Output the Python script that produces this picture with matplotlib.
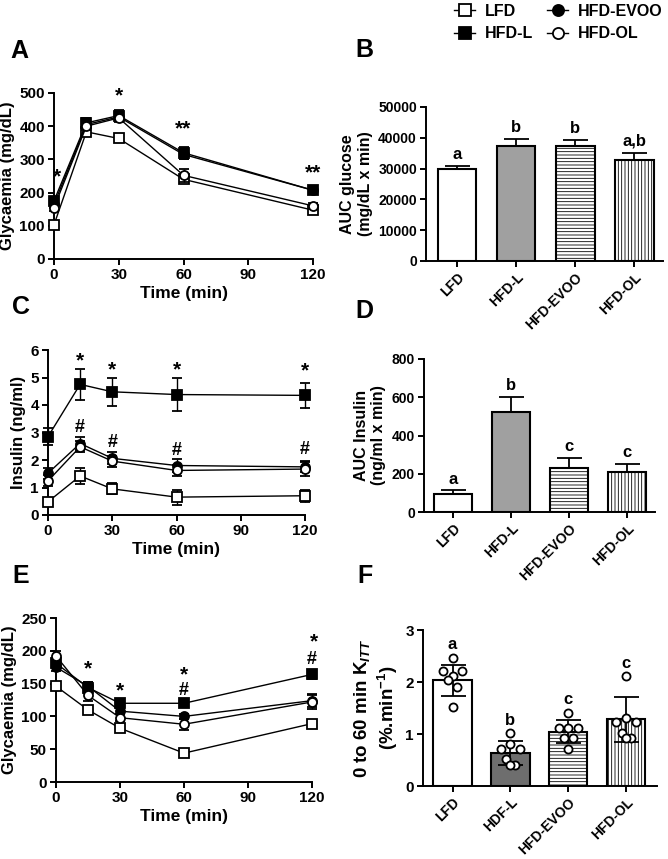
import matplotlib
matplotlib.use("Agg")
import matplotlib.pyplot as plt
from matplotlib.lines import Line2D

plt.rcParams['font.family'] = ['Liberation Sans', 'DejaVu Sans']
plt.rcParams['font.weight'] = 'bold'
plt.rcParams['axes.labelweight'] = 'bold'
plt.rcParams['mathtext.fontset'] = 'custom'
plt.rcParams['mathtext.rm'] = 'Liberation Sans:bold'
plt.rcParams['mathtext.it'] = 'Liberation Sans:italic:bold'
plt.rcParams['mathtext.bf'] = 'Liberation Sans:bold'
plt.rcParams['hatch.linewidth'] = 0.6

# ---- data ----
groups = ['LFD', 'HFD-L', 'HFD-EVOO', 'HFD-OL']
f_groups = ['LFD', 'HDF-L', 'HFD-EVOO', 'HFD-OL']
times = [0, 15, 30, 60, 120]

# A: OGTT glycaemia (LFD, HFD-L, HFD-EVOO, HFD-OL)
ogtt_mean = [[103, 383, 363, 240, 147],
             [175, 410, 432, 320, 207],
             [165, 405, 428, 315, 207],
             [155, 400, 425, 252, 160]]
ogtt_err = [[8, 10, 8, 10, 8],
            [10, 15, 18, 18, 6],
            [10, 12, 10, 15, 6],
            [10, 12, 10, 20, 8]]
ogtt_marks = [(1.5, 247, '*'), (30, 492, '*'), (60, 392, '**'), (120, 260, '**')]

# B: AUC glucose
auc_glu = [29800, 37500, 37500, 32800]
auc_glu_err = [1200, 2200, 1800, 2400]
auc_glu_letters = ['a', 'b', 'b', 'a,b']

# C: insulin
ins_mean = [[0.48, 1.42, 0.95, 0.65, 0.70],
            [2.85, 4.75, 4.48, 4.38, 4.35],
            [1.52, 2.60, 2.06, 1.80, 1.75],
            [1.24, 2.48, 1.96, 1.62, 1.67]]
ins_err = [[0.15, 0.28, 0.20, 0.27, 0.22],
           [0.30, 0.57, 0.50, 0.60, 0.45],
           [0.20, 0.25, 0.22, 0.25, 0.20],
           [0.20, 0.20, 0.20, 0.20, 0.25]]
ins_marks = [(15, 5.6, '*'), (30, 5.28, '*'), (60, 5.28, '*'), (120, 5.25, '*'),
             (15, 3.2, '#'), (30, 2.64, '#'), (60, 2.36, '#'), (120, 2.38, '#')]

# D: AUC insulin
auc_ins = [94, 522, 228, 210]
auc_ins_err = [19, 81, 54, 42]
auc_ins_letters = ['a', 'b', 'c', 'c']

# E: ITT glycaemia
itt_mean = [[146, 110, 82, 44, 89],
            [181, 144, 120, 120, 164],
            [175, 146, 108, 100, 124],
            [192, 132, 98, 88, 122]]
itt_err = [[5, 4, 4, 3, 5],
           [6, 8, 6, 5, 7],
           [6, 6, 5, 4, 10],
           [8, 8, 5, 8, 10]]
itt_marks = [(15, 172, '*'), (30, 139, '*'), (60, 163, '*'), (60, 139, '#'),
             (121, 213, '*'), (120, 186, '#')]

# F: KITT
kitt_mean = [2.03, 0.64, 1.04, 1.28]
kitt_sd = [0.29, 0.23, 0.22, 0.43]
kitt_points = [[2.47, 2.21, 2.21, 2.12, 2.03, 1.91, 1.51],
               [1.01, 0.72, 0.72, 0.81, 0.52, 0.40, 0.40],
               [1.41, 1.11, 1.11, 1.11, 0.92, 0.92, 0.71],
               [2.12, 1.24, 1.24, 1.31, 1.01, 0.92, 0.92]]
kitt_letters = ['a', 'b', 'c', 'c']

# ---- style ----
markers = ['s', 's', 'o', 'o']
fills = ['white', 'black', 'black', 'white']
hatches = ['', '', '-----', '|||||']

W, H = 668, 859
fig = plt.figure(figsize=(W / 100, H / 100), dpi=100)


def add_ax(left, right, top, bottom):
    return fig.add_axes([left / W, 1 - bottom / H, (right - left) / W, (bottom - top) / H])


def style(ax, fs=11):
    for s in ['top', 'right']:
        ax.spines[s].set_visible(False)
    for s in ['left', 'bottom']:
        ax.spines[s].set_linewidth(1.4)
    ax.tick_params(width=1.4, length=4, pad=2.5, labelsize=fs)
    for lab in ax.get_xticklabels() + ax.get_yticklabels():
        lab.set_fontweight('bold')


def curves(ax, means, errs, marks, ylim, yticks, ylabel):
    for i in range(4):
        ax.errorbar(times, means[i], yerr=errs[i], color='black', lw=1,
                     marker=markers[i], ms=6.5, mfc=fills[i], mec='black', mew=1.3,
                     capsize=3.5, elinewidth=1, capthick=1, clip_on=False, zorder=3 + i)
    for t, y, s in marks:
        ax.text(t, y, s, ha='center', va='center', fontsize=15 if s != '#' else 13)
    ax.set_xlim(0, 120)
    ax.set_xticks([0, 30, 60, 90, 120])
    ax.set_ylim(*ylim)
    ax.set_yticks(yticks)
    ax.set_xlabel('Time (min)', fontsize=12.5, labelpad=3)
    ax.set_ylabel(ylabel, fontsize=12, labelpad=3)
    style(ax, 11)


def bars(ax, means, errs, letters, fill2, xlim, ylim, yticks, ylabel, labels,
         lower=False, fs_lab=11, fs_tick=10):
    x = list(range(4))
    ax.bar(x, means, width=0.66, color=['white', fill2, 'white', 'white'],
           edgecolor='black', lw=1.5, hatch=hatches, zorder=2)
    yerr = [errs, errs] if lower else [[0] * 4, errs]
    ax.errorbar(x, means, yerr=yerr, fmt='none', ecolor='black', elinewidth=1.3,
                capsize=9, capthick=1.3, zorder=3)
    span = ylim[1] - ylim[0]
    for xi, m, e, l in zip(x, means, errs, letters):
        ax.text(xi, m + e + span * 0.025, l, ha='center', va='bottom', fontsize=12)
    ax.set_xlim(*xlim)
    ax.set_ylim(*ylim)
    ax.set_yticks(yticks)
    ax.set_xticks(x)
    ax.set_xticklabels(labels, rotation=45, ha='right', rotation_mode='anchor')
    ax.set_ylabel(ylabel, fontsize=fs_lab, labelpad=4)
    style(ax, fs_tick)


# A
axA = add_ax(54, 313, 93, 259)
curves(axA, ogtt_mean, ogtt_err, ogtt_marks, (0, 500), [0, 100, 200, 300, 400, 500],
       'Glycaemia (mg/dL)')

# B
axB = add_ax(426, 663, 107, 261)
bars(axB, auc_glu, auc_glu_err, auc_glu_letters, '#a0a0a0', (-0.525, 3.49), (0, 50000),
     [0, 10000, 20000, 30000, 40000, 50000], 'AUC glucose\n(mg/dL x min)', groups,
     fs_lab=11.5)

# C
axC = add_ax(48, 305, 350, 515)
curves(axC, ins_mean, ins_err, ins_marks, (0, 6), [0, 1, 2, 3, 4, 5, 6], 'Insulin (ng/ml)')

# D
axD = add_ax(424, 655, 359, 512)
bars(axD, auc_ins, auc_ins_err, auc_ins_letters, '#a0a0a0', (-0.5, 3.48), (0, 800),
     [0, 200, 400, 600, 800], 'AUC Insulin\n(ng/ml x min)', groups, fs_lab=11.5)

# E
axE = add_ax(56, 312, 618, 782)
curves(axE, itt_mean, itt_err, itt_marks, (0, 250), [0, 50, 100, 150, 200, 250],
       'Glycaemia (mg/dL)')

# F
axF = add_ax(423, 657, 630, 786)
bars(axF, kitt_mean, kitt_sd, kitt_letters, '#6e6e6e', (-0.51, 3.53), (0, 3), [0, 1, 2, 3],
     '0 to 60 min K$_{ITT}$\n(%.min$^{-1}$)', f_groups, lower=True, fs_lab=13.5, fs_tick=11)
for lab in axF.get_xticklabels():
    lab.set_fontsize(10)
jitter = [0.0, -0.17, 0.17, 0.0, -0.08, 0.08, 0.0]
for i, pts in enumerate(kitt_points):
    axF.scatter([i + j for j in jitter], pts, s=34, facecolor='white', edgecolor='black',
                lw=1.3, zorder=4)
# letters in F sit above the highest point
for t, pts, m, e in zip(axF.texts, kitt_points, kitt_mean, kitt_sd):
    t.set_y(max(max(pts), m + e) + 0.1)

# panel letters
for x, y, s in [(10, 58, 'A'), (355, 57, 'B'), (12, 314, 'C'), (355, 318, 'D'),
                (12, 583, 'E'), (357, 583, 'F')]:
    fig.text(x / W, 1 - y / H, s, fontsize=18, ha='left', va='baseline')

# legend
handles = [Line2D([0], [0], color='black', lw=1, marker=markers[i], ms=8,
                  mfc=fills[i], mec='black', mew=1.3) for i in range(4)]
fig.legend(handles, groups, ncol=2, loc='upper left', bbox_to_anchor=(440 / W, 1.012),
           frameon=False, handlelength=1.3, handletextpad=0.6, columnspacing=0.9,
           labelspacing=0.45, fontsize=11.5)

fig.savefig('out.png', dpi=100)
